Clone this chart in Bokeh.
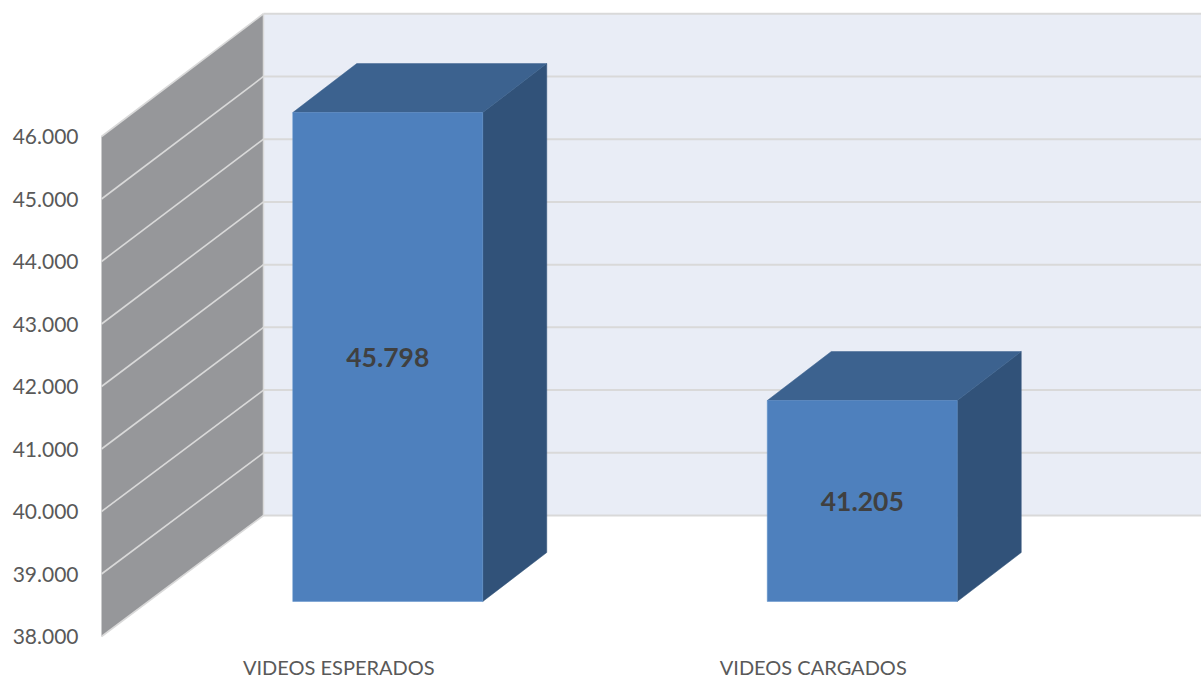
from bokeh.plotting import figure
from bokeh.embed import file_html
from bokeh.resources import INLINE
from bokeh.models import FixedTicker
from bokeh.core.properties import value

categories = ["VIDEOS ESPERADOS", "VIDEOS CARGADOS"]
series_values = [45798, 41205]
value_labels = ["45.798", "41.205"]
tick_values = [38000, 39000, 40000, 41000, 42000, 43000, 44000, 45000, 46000]
tick_labels = ["38.000", "39.000", "40.000", "41.000", "42.000", "43.000", "44.000", "45.000", "46.000"]

FIG_W, FIG_H = 1201, 678
PAD_L = 90
PX_PER_CAT = 474.5
PX_PER_VAL = 0.0625
FONT = "Lato"

def px_x(n):
    return n / PX_PER_CAT

def px_y(n):
    return n / PX_PER_VAL

# category slots start at the front edge of the side wall
cat_centers = [0.5 + i for i in range(len(categories))]
floor = tick_values[0]
top = tick_values[-1]

x_start = px_x(-11)
x_end = px_x(1100)
y_start = floor - px_y(42)
y_end = floor + px_y(636)

p = figure(width=FIG_W, height=FIG_H, output_backend="svg", toolbar_location=None,
           x_range=(x_start, x_end), y_range=(y_start, y_end), x_axis_location=None,
           min_border_left=PAD_L, min_border_right=0, min_border_top=0, min_border_bottom=0,
           outline_line_color=None, background_fill_color="white", border_fill_color="white")
p.grid.visible = False

WALL_DX = px_x(162)

def back_y(v):
    # the back of the wall is very slightly larger than the front
    return floor + px_y(121) + (v - floor) * 1.0035

GREY = "#96979A"
BACK = "#E9EDF6"
LINE = "#D9D9D9"

# back wall
p.quad(left=[WALL_DX], right=[x_end + 1], bottom=[back_y(floor)], top=[back_y(top)],
       fill_color=BACK, line_color=None)
# side wall
p.patch([0, WALL_DX, WALL_DX, 0], [floor, back_y(floor), back_y(top), top],
        fill_color=GREY, line_color=None)
# gridlines
for t in tick_values:
    p.line([WALL_DX, x_end + 1], [back_y(t), back_y(t)], line_color=LINE, line_width=2)
    p.line([0, WALL_DX], [t, back_y(t)], line_color=LINE, line_width=1.6)
p.line([WALL_DX, WALL_DX], [back_y(floor), back_y(top)], line_color=LINE, line_width=1.5)

# bars
BAR_W = px_x(190)
BAR_OFF = px_x(49)
BAR_DX = px_x(64)
BAR_DY = px_y(49)
BAR_BASE = px_y(35)
BAR_SCALE = 1.0032
FRONT_COL, TOP_COL, SIDE_COL = "#4E80BD", "#3C628F", "#315279"

for c, v, lab in zip(cat_centers, series_values, value_labels):
    l = c + BAR_OFF - BAR_W / 2
    r = l + BAR_W
    y0 = floor + BAR_BASE
    y1 = y0 + (v - floor) * BAR_SCALE
    p.patch([r, r + BAR_DX, r + BAR_DX, r], [y0, y0 + BAR_DY, y1 + BAR_DY, y1],
            fill_color=SIDE_COL, line_color=SIDE_COL, line_width=0.5)
    p.patch([l, r, r + BAR_DX, l + BAR_DX], [y1, y1, y1 + BAR_DY, y1 + BAR_DY],
            fill_color=TOP_COL, line_color=TOP_COL, line_width=0.5)
    p.quad(left=[l], right=[r], bottom=[y0], top=[y1], fill_color=FRONT_COL, line_color="#5F90CC", line_width=0.5)
    p.text([(l + r) / 2], [(y0 + y1) / 2], text=[lab], text_align="center", text_baseline="middle",
           text_font=value(FONT), text_font_style="bold", text_font_size="26.5px", text_color="#404040")

# value axis
ya = p.yaxis[0]
ya.ticker = FixedTicker(ticks=tick_values)
ya.major_label_overrides = {t: s for t, s in zip(tick_values, tick_labels)}
ya.axis_line_color = None
ya.major_tick_line_color = None
ya.minor_tick_line_color = None
ya.major_tick_in = 0
ya.major_tick_out = 0
ya.minor_tick_in = 0
ya.minor_tick_out = 0
ya.major_label_standoff = 12
ya.major_label_text_font = FONT
ya.major_label_text_font_size = "21px"
ya.major_label_text_color = "#595959"

# category labels on the front edge of the floor
p.text(cat_centers, [floor - px_y(30.5)] * len(cat_centers), text=categories,
       text_align="center", text_baseline="middle", text_font=value(FONT),
       text_font_size="20px", text_color="#595959")

open("out.html", "w").write(file_html(p, INLINE))
